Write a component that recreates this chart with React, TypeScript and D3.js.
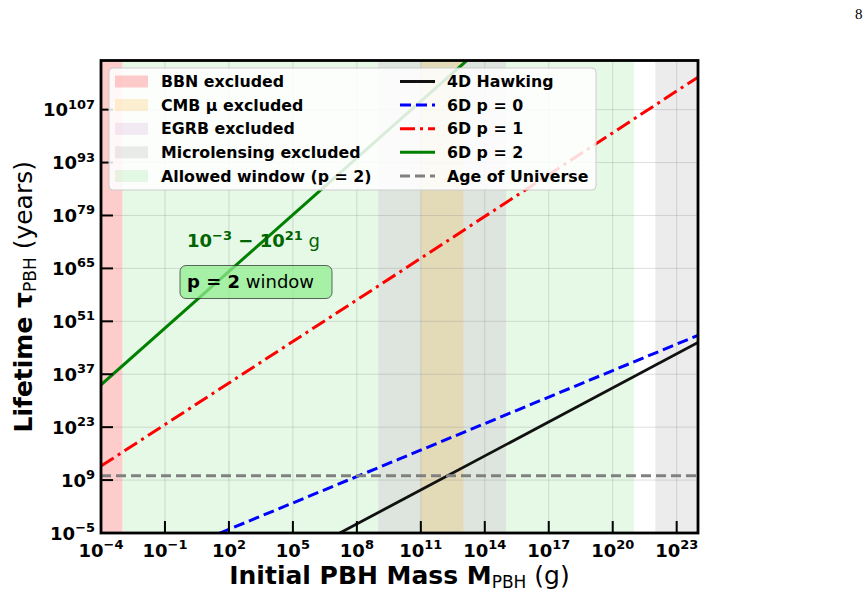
import React from "react";
import * as d3 from "d3";

// log10 of the masses (g) at which the lifetimes are read
const massExp = [-4, 10, 24];
// log10 of the lifetimes (years)
const tau4DExp = [-38.6, 3.4, 45.4];
const tauP0Exp = [-18.0, 14.6, 47.3];
const tauP1Exp = [12.7, 64.0, 115.6];
const tauP2Exp = [34.2, 104.2, 174.2];
const ageOfUniverse = 1.38e10;

const xTickExp = [-4, -1, 2, 5, 8, 11, 14, 17, 20, 23];
const yTickExp = [-5, 9, 23, 37, 51, 65, 79, 93, 107];

// excluded / allowed mass ranges (g)
const regionLabels = ["BBN excluded", "CMB μ excluded", "EGRB excluded", "Microlensing excluded", "Allowed window (p = 2)"];
const regionFrom = [1e-5, 1e11, 1e9, 1e22, 1e-3];
const regionTo = [1e-3, 1e13, 1e15, 1e25, 1e21];

const lineLabels = ["4D Hawking", "6D p = 0", "6D p = 1", "6D p = 2", "Age of Universe"];

const regionColors = [
  "rgba(255,0,0,0.2)",
  "rgba(255,165,0,0.17)",
  "rgba(128,0,128,0.08)",
  "rgba(128,128,128,0.15)",
  "rgba(50,205,50,0.12)",
];
const lineStyles = [
  { color: "#111111", width: 2.8, dash: "" },
  { color: "#0000ff", width: 3, dash: "11 5" },
  { color: "#ff0000", width: 3, dash: "15 5 3 5" },
  { color: "#008000", width: 3, dash: "" },
  { color: "#808080", width: 2.8, dash: "10 5" },
];

const FONT = "DejaVu Sans";

function Pow({ exp, x, y, anchor, size }: { exp: number; x: number; y: number; anchor: string; size: number }) {
  const s = exp < 0 ? "−" + Math.abs(exp) : String(exp);
  return (
    <text x={x} y={y} textAnchor={anchor} fontFamily={FONT} fontWeight="bold" fontSize={size} fill="#000">
      <tspan>10</tspan>
      <tspan dy={-size * 0.42} fontSize={size * 0.72}>{s}</tspan>
    </text>
  );
}

export default function App() {
  const W = 868, H = 594;
  const L = 101, R = 698, T = 60.5, B = 533;

  const x = d3.scaleLog().domain([1e-4, 1e24]).range([L, R]);
  const y = d3.scaleLog().domain([1e-5, 1e120]).range([B, T]);

  const line = d3
    .line<[number, number]>()
    .x((d) => x(d[0]))
    .y((d) => y(d[1]));
  const pts = (e: number[]) => massExp.map((m, i) => [10 ** m, 10 ** e[i]] as [number, number]);
  const series = [pts(tau4DExp), pts(tauP0Exp), pts(tauP1Exp), pts(tauP2Exp)];
  const ageLine: [number, number][] = [
    [1e-4, ageOfUniverse],
    [1e24, ageOfUniverse],
  ];

  const drawOrder = [4, 2, 1, 3, 0];

  const legRows = [81.5, 105, 128.8, 152.3, 176];

  return (
    <svg width={W} height={H} style={{ position: "absolute", left: 0, top: 0, background: "#fff" }}>
      <defs>
        <clipPath id="plotclip">
          <rect x={L} y={T} width={R - L} height={B - T} />
        </clipPath>
      </defs>
      <rect x={0} y={0} width={W} height={H} fill="#fff" />
      <text x={855} y={19} fontFamily="Liberation Serif" fontSize={15}>8</text>

      <g clipPath="url(#plotclip)">
        {drawOrder.map((i) => (
          <rect
            key={i}
            x={x(regionFrom[i])}
            y={T}
            width={x(regionTo[i]) - x(regionFrom[i])}
            height={B - T}
            fill={regionColors[i]}
          />
        ))}
        {xTickExp.map((e) => (
          <line key={"gx" + e} x1={x(10 ** e)} x2={x(10 ** e)} y1={T} y2={B} stroke="rgba(128,128,128,0.25)" strokeWidth={1} />
        ))}
        {yTickExp.map((e) => (
          <line key={"gy" + e} x1={L} x2={R} y1={y(10 ** e)} y2={y(10 ** e)} stroke="rgba(128,128,128,0.25)" strokeWidth={1} />
        ))}
        {series.map((s, i) => (
          <path
            key={"s" + i}
            d={line(s) || ""}
            fill="none"
            stroke={lineStyles[i].color}
            strokeWidth={lineStyles[i].width}
            strokeDasharray={lineStyles[i].dash}
          />
        ))}
        <path
          d={line(ageLine) || ""}
          fill="none"
          stroke={lineStyles[4].color}
          strokeWidth={lineStyles[4].width}
          strokeDasharray={lineStyles[4].dash}
        />
      </g>

      {/* annotations */}
      <text x={187} y={247} fontFamily={FONT} fontSize={18} fill="#006400">
        <tspan fontWeight="bold">10</tspan>
        <tspan fontWeight="bold" dy={-7.5} fontSize={13}>−3</tspan>
        <tspan fontWeight="bold" dy={7.5}> − 10</tspan>
        <tspan fontWeight="bold" dy={-7.5} fontSize={13}>21</tspan>
        <tspan dy={7.5}> g</tspan>
      </text>
      <rect x={180} y={265.5} width={152} height={33} rx={6} fill="rgba(144,238,144,0.75)" stroke="rgba(40,40,40,0.7)" strokeWidth={1} />
      <text x={187} y={288} fontFamily={FONT} fontSize={18} fill="#000">
        <tspan fontWeight="bold">p = 2</tspan>
        <tspan> window</tspan>
      </text>

      {/* axes frame and ticks */}
      <rect x={L} y={T} width={R - L} height={B - T} fill="none" stroke="#000" strokeWidth={2.8} />
      {xTickExp.map((e) => (
        <g key={"tx" + e}>
          <line x1={x(10 ** e)} x2={x(10 ** e)} y1={B} y2={B - 12} stroke="#000" strokeWidth={2} />
          <Pow exp={e} x={x(10 ** e)} y={557} anchor="middle" size={18} />
        </g>
      ))}
      {yTickExp.map((e) => (
        <g key={"ty" + e}>
          <line x1={L} x2={L + 12} y1={y(10 ** e)} y2={y(10 ** e)} stroke="#000" strokeWidth={2} />
          <Pow exp={e} x={95} y={y(10 ** e) + 6.5} anchor="end" size={18} />
        </g>
      ))}

      {/* axis titles */}
      <text x={(L + R) / 2} y={584} textAnchor="middle" fontFamily={FONT} fontSize={25} fill="#000">
        <tspan fontWeight="bold">Initial PBH Mass M</tspan>
        <tspan dy={4} fontSize={17}>PBH</tspan>
        <tspan dy={-4}> (g)</tspan>
      </text>
      <text
        transform={`translate(32,${(T + B) / 2}) rotate(-90)`}
        textAnchor="middle"
        fontFamily={FONT}
        fontSize={25}
        fill="#000"
      >
        <tspan fontWeight="bold">Lifetime τ</tspan>
        <tspan dy={4} fontSize={17}>PBH</tspan>
        <tspan dy={-4}> (years)</tspan>
      </text>

      {/* legend */}
      <rect x={109} y={68} width={487} height={122} rx={4} fill="rgba(255,255,255,0.85)" stroke="#cccccc" strokeWidth={1} />
      {regionLabels.map((lab, i) => (
        <g key={"lr" + i}>
          <rect x={115} y={legRows[i] - 6} width={33} height={12} fill={regionColors[i]} />
          <text x={161} y={legRows[i] + 5.5} fontFamily={FONT} fontWeight="bold" fontSize={15.8} fill="#000">
            {lab}
          </text>
        </g>
      ))}
      {lineLabels.map((lab, i) => (
        <g key={"ll" + i}>
          <line
            x1={400}
            x2={435}
            y1={legRows[i]}
            y2={legRows[i]}
            stroke={lineStyles[i].color}
            strokeWidth={lineStyles[i].width}
            strokeDasharray={lineStyles[i].dash}
          />
          <text x={447} y={legRows[i] + 5.5} fontFamily={FONT} fontWeight="bold" fontSize={15.8} fill="#000">
            {lab}
          </text>
        </g>
      ))}
    </svg>
  );
}
